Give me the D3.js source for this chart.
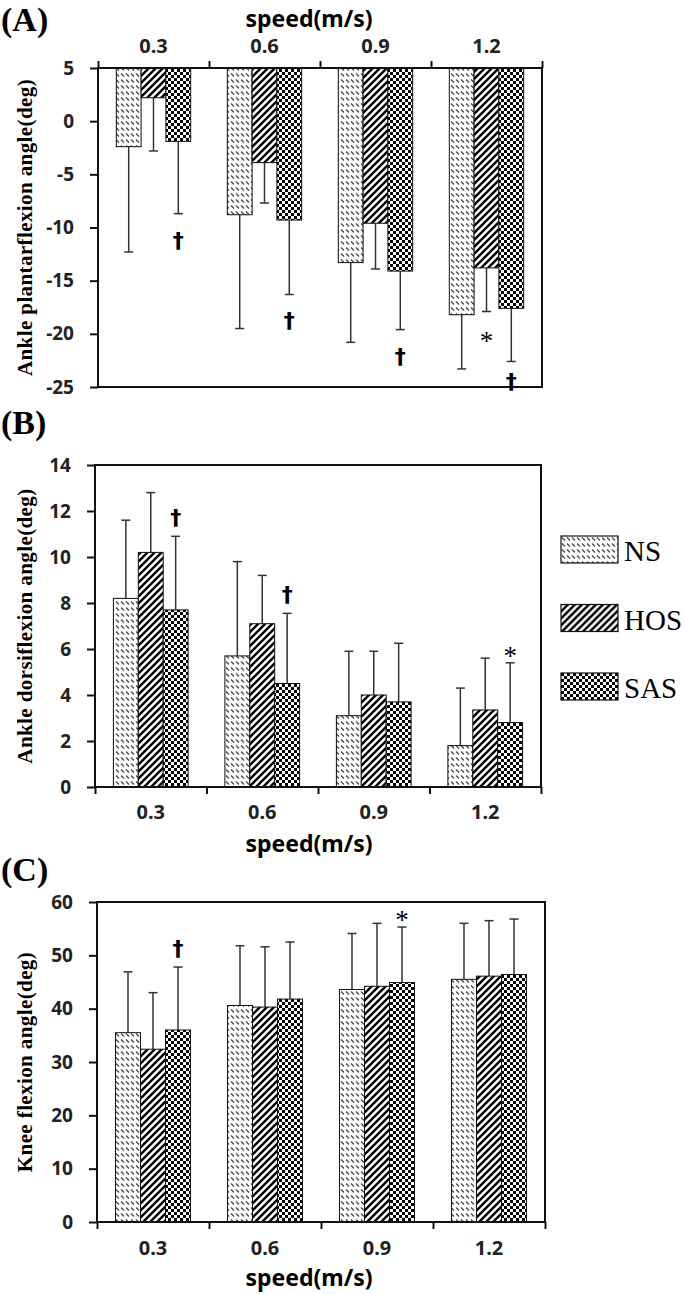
<!DOCTYPE html>
<html>
<head>
<meta charset="utf-8">
<script src="https://cdn.jsdelivr.net/npm/d3@7"></script>
<style>
  body { margin: 0; background: #fff; }
  svg { display: block; }
  .tick text { font-family: "Noto Sans", sans-serif; font-weight: 700; fill: #222; }
</style>
</head>
<body>
<div id="chart"></div>
<script>
// categories
const speeds = ['0.3', '0.6', '0.9', '1.2'];
const groups = ['NS', 'HOS', 'SAS'];

// (A) ankle plantarflexion, mean and SD per speed
const plantarNS = [-2.4, -8.8, -13.3, -18.2];
const plantarHOS = [2.2, -3.9, -9.6, -13.8];
const plantarSAS = [-1.9, -9.3, -14.1, -17.6];
const plantarNSsd = [9.9, 10.7, 7.5, 5.1];
const plantarHOSsd = [5.0, 3.8, 4.3, 4.1];
const plantarSASsd = [6.8, 7.0, 5.5, 5.0];
const plantarTicks = [-25, -20, -15, -10, -5, 0, 5];

// (B) ankle dorsiflexion
const dorsiNS = [8.2, 5.7, 3.1, 1.8];
const dorsiHOS = [10.2, 7.1, 4.0, 3.35];
const dorsiSAS = [7.7, 4.5, 3.7, 2.8];
const dorsiNSsd = [3.4, 4.1, 2.8, 2.5];
const dorsiHOSsd = [2.6, 2.1, 1.9, 2.25];
const dorsiSASsd = [3.2, 3.05, 2.55, 2.6];
const dorsiTicks = [0, 2, 4, 6, 8, 10, 12, 14];

// (C) knee flexion
const kneeNS = [35.5, 40.6, 43.6, 45.5];
const kneeHOS = [32.4, 40.3, 44.2, 46.1];
const kneeSAS = [36.0, 41.8, 44.9, 46.4];
const kneeNSsd = [11.4, 11.2, 10.5, 10.5];
const kneeHOSsd = [10.6, 11.3, 11.8, 10.4];
const kneeSASsd = [11.8, 10.7, 10.4, 10.4];
const kneeTicks = [0, 10, 20, 30, 40, 50, 60];

// significance marks: [speed, group, symbol]
const plantarMarks = [['0.3', 'SAS', '†'], ['0.6', 'SAS', '†'], ['0.9', 'SAS', '†'], ['1.2', 'SAS', '†'], ['1.2', 'HOS', '*']];
const dorsiMarks = [['0.3', 'SAS', '†'], ['0.6', 'SAS', '†'], ['1.2', 'SAS', '*']];
const kneeMarks = [['0.3', 'SAS', '†'], ['0.9', 'SAS', '*']];

const svg = d3.select('#chart').append('svg')
    .attr('width', 685)
    .attr('height', 1294);

// fill patterns
const defs = svg.append('defs');
const pNS = defs.append('pattern').attr('id', 'pat-NS')
    .attr('patternUnits', 'userSpaceOnUse').attr('width', 5).attr('height', 6);
pNS.append('rect').attr('width', 5).attr('height', 6).attr('fill', '#fff');
pNS.append('path').attr('d', 'M1,1.5L4,4.5').attr('stroke', '#444').attr('stroke-width', 1.2);

const pHOS = defs.append('pattern').attr('id', 'pat-HOS')
    .attr('patternUnits', 'userSpaceOnUse').attr('width', 7).attr('height', 7);
pHOS.append('rect').attr('width', 7).attr('height', 7).attr('fill', '#fff');
pHOS.append('path').attr('d', 'M-2,2L2,-2M0,7L7,0M5,9L9,5').attr('stroke', '#000').attr('stroke-width', 2.4);

const pSAS = defs.append('pattern').attr('id', 'pat-SAS')
    .attr('patternUnits', 'userSpaceOnUse').attr('width', 6).attr('height', 6);
pSAS.append('rect').attr('width', 6).attr('height', 6).attr('fill', '#fff');
pSAS.append('rect').attr('width', 3).attr('height', 3).attr('fill', '#000');
pSAS.append('rect').attr('x', 3).attr('y', 3).attr('width', 3).attr('height', 3).attr('fill', '#000');

const panels = [
    {
        label: '(A)', labelY: 31, title: 'Ankle plantarflexion angle(deg)',
        left: 98, right: 542, top: 68, bottom: 387,
        domain: [-25, 5], ticks: plantarTicks, base: 5, axisTop: true,
        means: [plantarNS, plantarHOS, plantarSAS], sds: [plantarNSsd, plantarHOSsd, plantarSASsd],
        marks: plantarMarks, labelPad: 15, titleY: 27
    },
    {
        label: '(B)', labelY: 434, title: 'Ankle dorsiflexion angle(deg)',
        left: 95, right: 541, top: 465, bottom: 787,
        domain: [0, 14], ticks: dorsiTicks, base: 0, axisTop: false,
        means: [dorsiNS, dorsiHOS, dorsiSAS], sds: [dorsiNSsd, dorsiHOSsd, dorsiSASsd],
        marks: dorsiMarks, labelPad: 18, titleY: 852
    },
    {
        label: '(C)', labelY: 881, title: 'Knee flexion  angle(deg)',
        left: 97, right: 545, top: 902, bottom: 1222,
        domain: [0, 60], ticks: kneeTicks, base: 0, axisTop: false,
        means: [kneeNS, kneeHOS, kneeSAS], sds: [kneeNSsd, kneeHOSsd, kneeSASsd],
        marks: kneeMarks, labelPad: 19, titleY: 1286
    }
];

panels.forEach(drawPanel);
drawLegend();

function drawPanel(p) {
    const y = d3.scaleLinear().domain(p.domain).range([p.bottom, p.top]);
    const slot = d3.scaleBand().domain(speeds).range([p.left, p.right]);
    const sub = d3.scaleBand().domain(groups)
        .range([slot.bandwidth() * 0.165, slot.bandwidth() * 0.835]);
    const xEdge = d3.scaleLinear().domain([0, speeds.length]).range([p.left, p.right]);

    const g = svg.append('g');

    // panel letter
    g.append('text')
        .attr('x', 1).attr('y', p.labelY)
        .style('font-family', '"Liberation Serif", serif')
        .style('font-weight', 700)
        .style('font-size', '34px')
        .text(p.label);

    // y axis title
    g.append('text')
        .attr('transform', `translate(32,${(p.top + p.bottom) / 2}) rotate(-90)`)
        .attr('text-anchor', 'middle')
        .style('font-family', '"Liberation Serif", serif')
        .style('font-weight', 700)
        .style('font-size', '21px')
        .style('letter-spacing', '0.4px')
        .text(p.title);

    // bars
    const rows = [];
    speeds.forEach((s, i) => {
        groups.forEach((grp, j) => {
            rows.push({ speed: s, group: grp, mean: p.means[j][i], sd: p.sds[j][i] });
        });
    });

    const bars = g.selectAll('.bar').data(rows).enter().append('g');

    // error bars first (one sided, away from the base)
    bars.each(function(d) {
        const dir = d.mean < p.base ? -1 : 1;
        const end = d.mean + dir * d.sd;
        d.errEnd = end;
        const cx = slot(d.speed) + sub(d.group) + sub.bandwidth() / 2;
        const sel = d3.select(this);
        sel.append('line')
            .attr('x1', cx).attr('x2', cx)
            .attr('y1', y(d.mean)).attr('y2', y(end))
            .attr('stroke', '#333').attr('stroke-width', 1.5);
        sel.append('line')
            .attr('x1', cx - 4.5).attr('x2', cx + 4.5)
            .attr('y1', y(end)).attr('y2', y(end))
            .attr('stroke', '#333').attr('stroke-width', 1.5);
    });

    bars.append('rect')
        .attr('x', d => slot(d.speed) + sub(d.group))
        .attr('width', sub.bandwidth())
        .attr('y', d => Math.min(y(d.mean), y(p.base)))
        .attr('height', d => Math.abs(y(d.mean) - y(p.base)))
        .attr('fill', d => `url(#pat-${d.group})`)
        .attr('stroke', '#111')
        .attr('stroke-width', 1);

    // significance marks
    p.marks.forEach(([s, grp, sym]) => {
        const d = rows.find(r => r.speed === s && r.group === grp);
        const cx = slot(s) + sub(grp) + sub.bandwidth() / 2;
        const ey = y(d.errEnd);
        let ty;
        if (p.axisTop) {
            ty = Math.min(ey + (sym === '*' ? 38 : 34), p.bottom + 2);
        } else {
            ty = ey - (sym === '*' ? -2 : 11);
        }
        g.append('text')
            .attr('x', cx).attr('y', ty)
            .attr('text-anchor', 'middle')
            .style('font-family', sym === '*' ? '"Liberation Serif", serif' : '"DejaVu Sans", sans-serif')
            .style('font-weight', sym === '*' ? 400 : 700)
            .style('font-size', sym === '*' ? '27px' : '22px')
            .text(sym);
    });

    // frame
    g.append('rect')
        .attr('x', p.left).attr('y', p.top)
        .attr('width', p.right - p.left).attr('height', p.bottom - p.top)
        .attr('fill', 'none').attr('stroke', '#111').attr('stroke-width', 2);

    // y axis
    const yAxis = g.append('g')
        .attr('transform', `translate(${p.left},0)`)
        .call(d3.axisLeft(y).tickValues(p.ticks).tickSize(8).tickSizeOuter(0)
            .tickPadding(16).tickFormat(d => String(d)));
    yAxis.select('.domain').remove();
    yAxis.selectAll('.tick line').attr('stroke', '#111').attr('stroke-width', 2);
    yAxis.selectAll('.tick text').style('font-size', '19px');

    // category edge ticks and labels
    const axisY = p.axisTop ? y(p.base) : p.bottom;
    const edgeAxis = p.axisTop ? d3.axisTop(xEdge) : d3.axisBottom(xEdge);
    const edges = g.append('g')
        .attr('transform', `translate(0,${axisY})`)
        .call(edgeAxis.tickValues(d3.range(speeds.length + 1)).tickFormat('').tickSize(7).tickSizeOuter(0));
    edges.select('.domain').remove();
    edges.selectAll('.tick line').attr('stroke', '#111').attr('stroke-width', 2);

    const catAxis = p.axisTop ? d3.axisTop(slot) : d3.axisBottom(slot);
    const cats = g.append('g')
        .attr('transform', `translate(0,${axisY})`)
        .call(catAxis.tickSize(0).tickPadding(p.labelPad));
    cats.select('.domain').remove();
    cats.selectAll('.tick text').style('font-size', '20px');

    // x axis title
    g.append('text')
        .attr('x', 309).attr('y', p.titleY)
        .attr('text-anchor', 'middle')
        .style('font-family', '"Noto Sans", sans-serif')
        .style('font-weight', 700)
        .style('font-size', '23px')
        .text('speed(m/s)');
}

function drawLegend() {
    const legendY = d3.scalePoint().domain(groups).range([536, 673]);
    const lg = svg.append('g').selectAll('g').data(groups).enter().append('g')
        .attr('transform', d => `translate(561,${legendY(d)})`);
    lg.append('rect')
        .attr('width', 57).attr('height', 27)
        .attr('fill', d => `url(#pat-${d})`)
        .attr('stroke', '#111').attr('stroke-width', 1.2);
    lg.append('text')
        .attr('x', 63).attr('y', 25)
        .style('font-family', '"Liberation Serif", serif')
        .style('font-size', '29px')
        .text(d => d);
}
</script>
</body>
</html>
